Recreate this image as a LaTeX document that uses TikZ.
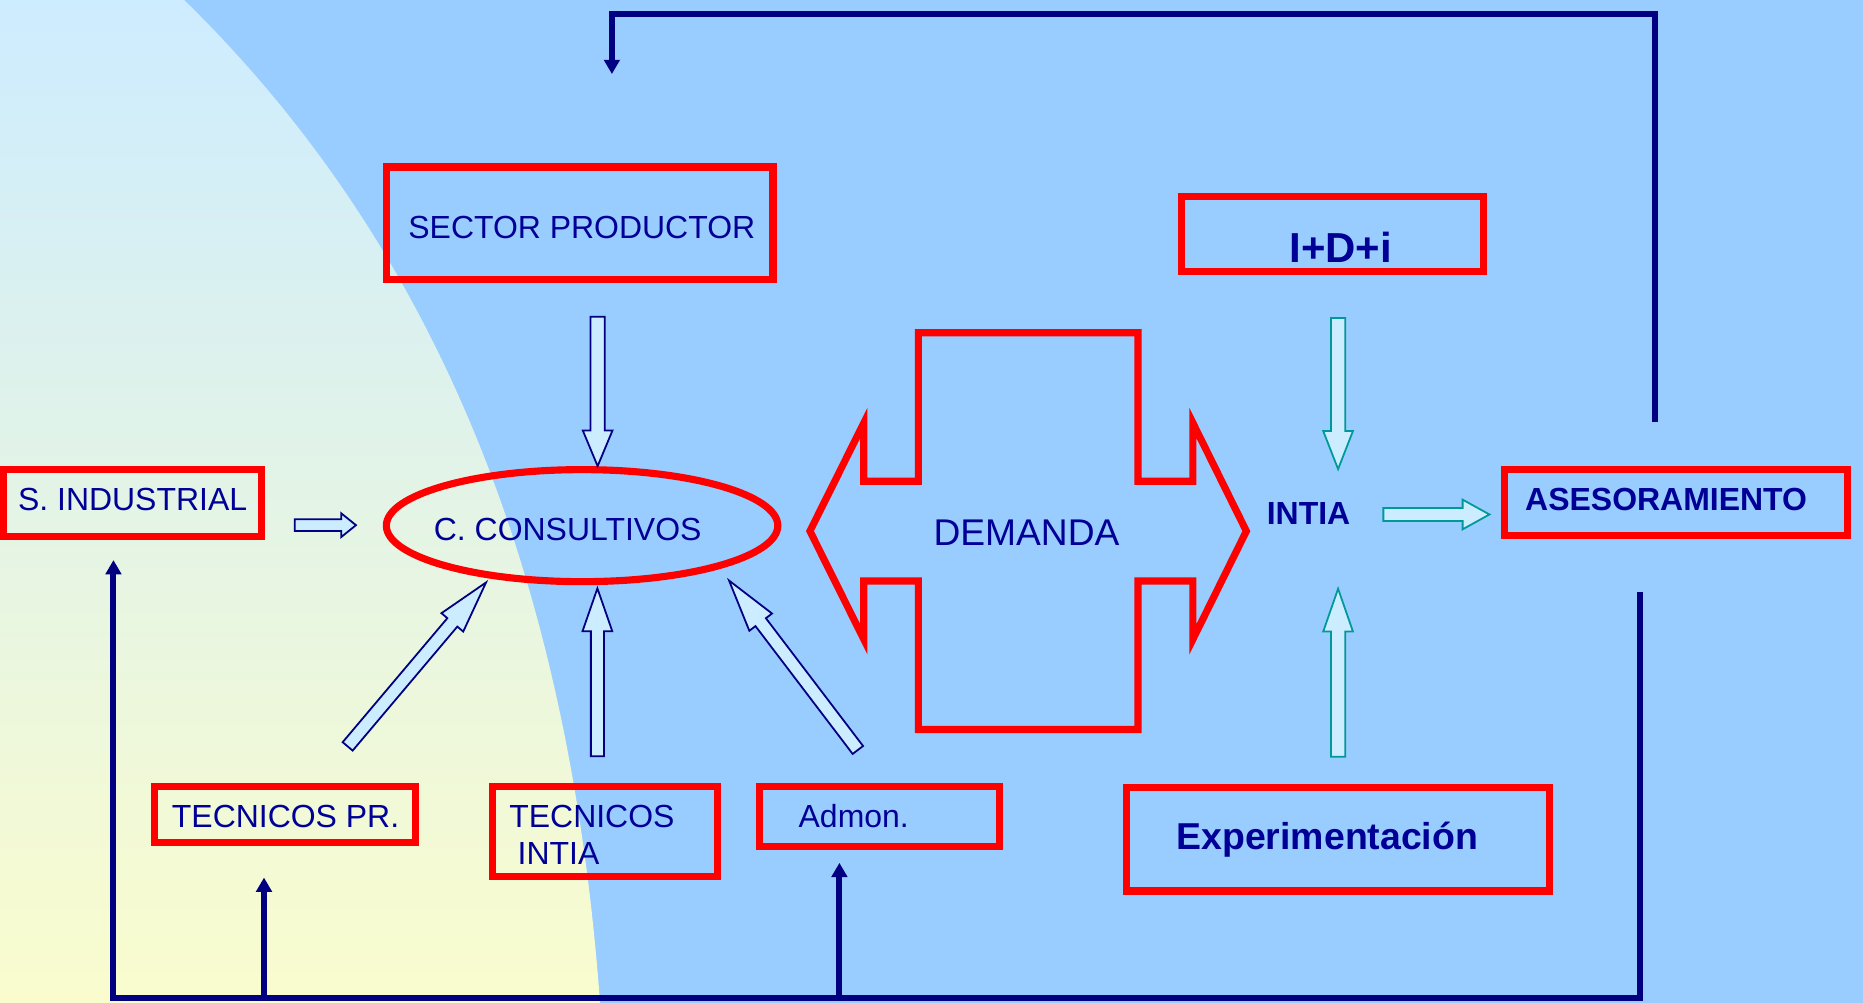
\documentclass[tikz,border=0pt]{standalone}
\usepackage{fontspec}
\setmainfont{Liberation Sans}
\usetikzlibrary{calc,arrows.meta,shapes.geometric}
\definecolor{bgblue}{RGB}{153,204,255}
\definecolor{gtop}{RGB}{205,236,255}
\definecolor{gbot}{RGB}{250,252,205}
\definecolor{navyline}{RGB}{0,0,128}
\definecolor{navytext}{RGB}{0,0,150}
\definecolor{arrfill}{RGB}{204,236,255}
\definecolor{tealline}{RGB}{0,153,153}
\definecolor{boxred}{RGB}{255,0,0}
\newcommand\fnorm{\fontsize{26.9pt}{32pt}\selectfont}
% block arrow: style, from, to, shaft half width, head half width, head length
\newcommand\blockarrow[6]{%
  \coordinate (ba-h) at ($(#3)!#6!(#2)$);
  \draw[#1] ($(#2)!#4!90:(#3)$) -- ($(ba-h)!#4!-90:(#2)$) -- ($(ba-h)!#5!-90:(#2)$) -- (#3)
    -- ($(ba-h)!#5!90:(#2)$) -- ($(ba-h)!#4!90:(#2)$) -- ($(#2)!#4!-90:(#3)$) -- cycle;
}
\begin{document}
\begin{tikzpicture}[x=1pt,y=-1pt,
  redbox/.style={draw=boxred,line width=6pt,rectangle,inner sep=0pt},
  lbl/.style={anchor=base west,inner sep=0pt,text=navytext,font=\fnorm},
  blbl/.style={anchor=base west,inner sep=0pt,text=navytext,font=\fnorm\bfseries},
  navyblock/.style={draw=navyline,fill=arrfill,line width=1.5pt,line join=miter},
  tealblock/.style={draw=tealline,fill=arrfill,line width=1.5pt,line join=miter},
  feed/.style={draw=navyline,line width=5pt,line join=miter},
  feedtip/.style={-{Triangle[length=12pt,width=13pt]}}]
\useasboundingbox (0,0) rectangle (1568,844);
% background
\fill[bgblue] (0,0) rectangle (1568,844);
\shade[top color=gtop,bottom color=gbot] (0,0) -- (155,0) .. controls (375,215) and (480,500) .. (505,844) -- (0,844) -- cycle;

% boxes
\node[redbox,minimum width=325.6pt,minimum height=94.5pt] (sp) at (487.8,187.8) {};
\node[redbox,minimum width=254pt,minimum height=63pt] (idi) at (1121.5,197.1) {};
\node[redbox,minimum width=288.6pt,minimum height=56pt] (ases) at (1410.3,423) {};
\node[redbox,minimum width=355.7pt,minimum height=87.2pt] (exp) at (1126,706.3) {};
\node[redbox,minimum width=216.8pt,minimum height=56.3pt] (sind) at (111.4,423.4) {};
\node[redbox,minimum width=219.5pt,minimum height=47.4pt] (tpr) at (240,685.5) {};
\node[redbox,minimum width=189.4pt,minimum height=76.2pt] (tint) at (509.5,699.9) {};
\node[redbox,minimum width=202pt,minimum height=51pt] (adm) at (740,687.3) {};
\node[ellipse,draw=boxred,line width=6pt,inner sep=0pt,minimum width=329.5pt,minimum height=94.3pt] (cc) at (489.9,442.4) {};

% DEMANDA double arrow
\draw[draw=boxred,line width=6pt,line join=miter]
  (772.9,280) -- (957.8,280) -- (957.8,405) -- (1004,405) -- (1004,356) -- (1049,447)
  -- (1004,538) -- (1004,489) -- (957.8,489) -- (957.8,614) -- (772.9,614) -- (772.9,489)
  -- (727,489) -- (727,538) -- (681.7,447) -- (727,356) -- (727,405) -- (772.9,405) -- cycle;

% texts
\node[lbl] (spT) at (343.5,200.6) {SECTOR PRODUCTOR};
\node[blbl,font=\fontsize{35.3pt}{40pt}\selectfont\bfseries] (idiT) at (1085,220.8) {I+D+i};
\node[blbl] (asesT) at (1283.5,429.8) {ASESORAMIENTO};
\node[blbl] (intia) at (1066,441.6) {INTIA};
\node[blbl,font=\fontsize{31.5pt}{36pt}\selectfont\bfseries] (expT) at (990,714.6) {Experimentación};
\node[lbl,font=\fontsize{31.3pt}{36pt}\selectfont] (dem) at (785.5,458.8) {DEMANDA};
\node[lbl] (ccT) at (365,454.5) {C. CONSULTIVOS};
\node[lbl] (sindT) at (15,429.3) {S. INDUSTRIAL};
\node[lbl] (tprT) at (144.5,696.5) {TECNICOS PR.};
\node[lbl] (tintT1) at (428.5,696.5) {TECNICOS};
\node[lbl] (tintT2) at (435.5,727.7) {INTIA};
\node[lbl] (admT) at (672,696.5) {Admon.};

% block arrow endpoints
\coordinate (spA) at (503,266.5);   \coordinate (spB) at (503,392.3);
\coordinate (siA) at (248,442);     \coordinate (siB) at (299.6,442);
\coordinate (tiA) at (502.8,636.5); \coordinate (tiB) at (502.8,495.2);
\coordinate (tpA) at (292.6,628.2); \coordinate (tpB) at (409.1,490.2);
\coordinate (adA) at (722,631.2);   \coordinate (adB) at (613.6,488.6);
\coordinate (idA) at (1126.2,267.7); \coordinate (idB) at (1126.2,394.8);
\coordinate (exA) at (1126.2,637);  \coordinate (exB) at (1126.2,495.5);
\coordinate (inA) at (1164.3,433);  \coordinate (inB) at (1253.6,433);

\blockarrow{navyblock}{spA}{spB}{6pt}{12.5pt}{30pt}
\blockarrow{navyblock}{siA}{siB}{5pt}{10pt}{12.4pt}
\blockarrow{navyblock}{tiA}{tiB}{5.5pt}{12.5pt}{36pt}
\blockarrow{navyblock}{tpA}{tpB}{5.5pt}{12pt}{44pt}
\blockarrow{navyblock}{adA}{adB}{5.5pt}{12pt}{44pt}
\blockarrow{tealblock}{idA}{idB}{6pt}{12.5pt}{32pt}
\blockarrow{tealblock}{exA}{exB}{6pt}{12.5pt}{36pt}
\blockarrow{tealblock}{inA}{inB}{5.5pt}{12.5pt}{22.6pt}

% feedback lines
\coordinate (t0) at (1393,355.4);
\coordinate (t1) at (1393,12);
\coordinate (t2) at (515,12);
\coordinate (t3) at (515,62.3);
\draw[feed,feedtip] (t0) -- (t1) -- (t2) -- (t3);
\coordinate (b0) at (1380.5,498);
\coordinate (b1) at (1380.5,840);
\coordinate (b2) at (95.5,840);
\coordinate (b3) at (95.5,471.4);
\draw[feed,feedtip] (b0) -- (b1) -- (b2) -- (b3);
\coordinate (bt0) at (222.2,840);
\coordinate (bt1) at (222.2,738.6);
\draw[feed,feedtip] (bt0) -- (bt1);
\coordinate (ba0) at (706.5,840);
\coordinate (ba1) at (706.5,726.2);
\draw[feed,feedtip] (ba0) -- (ba1);
\end{tikzpicture}
\end{document}
